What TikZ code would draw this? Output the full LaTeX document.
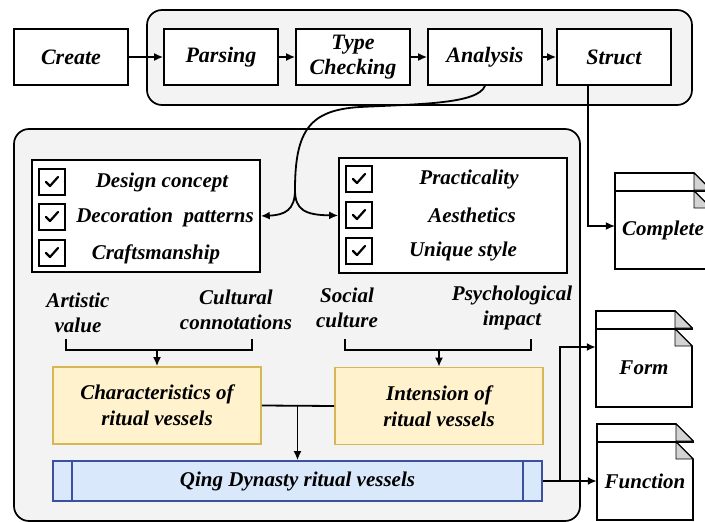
\documentclass[tikz,border=0pt]{standalone}
\usepackage{fontspec}
\setmainfont{Liberation Serif}[
  BoldFont={Liberation Serif Bold},
  ItalicFont={Liberation Serif Italic},
  BoldItalicFont={Liberation Serif Bold Italic}]
\usetikzlibrary{arrows.meta}

\definecolor{panelgray}{RGB}{243,243,243}
\definecolor{ochrefill}{RGB}{255,242,204}
\definecolor{ochreline}{RGB}{214,182,86}
\definecolor{bluefill}{RGB}{218,232,252}
\definecolor{blueline}{RGB}{60,80,160}
\definecolor{foldgray}{RGB}{211,211,211}

\newcommand{\bigit}{\fontsize{22}{25}\selectfont\bfseries\itshape}
\newcommand{\smallit}{\fontsize{21}{25}\selectfont\bfseries\itshape}

\tikzset{
  stage/.style={draw, line width=1.6pt, fill=white, minimum width=114pt, minimum height=56pt, inner sep=1pt, align=center, font=\bigit},
  panel/.style={draw, line width=1.7pt, fill=panelgray, rounded corners=15pt},
  listbox/.style={draw, line width=1.6pt, fill=white, minimum width=228pt, inner sep=0pt},
  tickbox/.style={draw, line width=1.4pt, fill=white, minimum size=26pt, inner sep=0pt},
  item/.style={inner sep=0pt, font=\smallit},
  factor/.style={inner sep=0pt, align=center, font=\smallit},
  vessel/.style={draw=ochreline, fill=ochrefill, line width=1.6pt, minimum width=208pt, minimum height=77pt, align=center, font=\fontsize{21}{26}\selectfont\bfseries\itshape},
  sheet/.style={draw, line width=1.6pt, fill=white},
  fold/.style={draw, line width=0.8pt, fill=foldgray},
  doctext/.style={minimum width=96pt, minimum height=78pt, inner sep=0pt, font=\smallit},
  link/.style={line width=1.8pt},
  conn/.style={line width=1.8pt, -{Latex[length=9pt,width=8pt]}}
}

% check mark inside a tick box
\newcommand{\tickin}[1]{%
  \draw[line width=2.2pt, line cap=round, line join=round] ([shift={(-6,0)}]#1.center) -- ([shift={(-2,4)}]#1.center) -- ([shift={(6,-5)}]#1.center);}

% stacked document sheets: name, left, top, text
\newcommand{\docpair}[4]{%
  \begin{scope}[shift={(#2,#3)}]
    \draw[sheet] (0,0) -- (79,0) -- (96,17) -- (96,18) -- (0,18) -- cycle;
    \draw[fold] (79,0) -- (79,17) -- (96,17) -- cycle;
    \draw[sheet] (0,18) -- (79,18) -- (96,35) -- (96,96) -- (0,96) -- cycle;
    \draw[fold] (79,18) -- (79,35) -- (96,35) -- cycle;
    \node[doctext] (#1) at (48,57) {#4};
  \end{scope}}

\begin{document}
\begin{tikzpicture}[x=1pt,y=-1pt]
  \useasboundingbox (0,0) rectangle (705,522);

  % Panels
  \draw[panel] (147,10) rectangle (692,105);
  \draw[panel] (14,129) rectangle (580,521);

  % Pipeline
  \node[stage] (create) at (71,57) {Create};
  \node[stage] (parse) at (221,57) {Parsing};
  \node[stage] (check) at (353,57) {Type\\Checking};
  \node[stage] (ana) at (485,57) {Analysis};
  \node[stage] (struct) at (614,57) {Struct};
  \draw[conn] (create) -- (parse);
  \draw[conn] (parse) -- (check);
  \draw[conn] (check) -- (ana);
  \draw[conn] (ana) -- (struct);

  % Check lists
  \node[listbox, minimum height=112pt] (listL) at (146,216) {};
  \node[listbox, minimum height=115pt] (listR) at (453,215.5) {};
  \node[tickbox] (tL1) at (52,182) {};
  \node[tickbox] (tL2) at (52,217) {};
  \node[tickbox] (tL3) at (52,253) {};
  \node[tickbox] (tR1) at (359,179) {};
  \node[tickbox] (tR2) at (359,215) {};
  \node[tickbox] (tR3) at (359,251) {};
  \foreach \t in {tL1,tL2,tL3,tR1,tR2,tR3} {\tickin{\t}}
  \node[item] (design) at (162,182) {Design concept};
  \node[item] (decor) at (165,217) {Decoration\ \ patterns};
  \node[item] (craft) at (156,254) {Craftsmanship};
  \node[item] (pract) at (469,179) {Practicality};
  \node[item] (aest) at (472,215) {Aesthetics};
  \node[item] (unique) at (463,251) {Unique style};

  % Analysis feeds both lists
  \coordinate (fork) at (295,190);
  \draw[link] (ana.south) .. controls (478,104) and (420,104) .. (360,107)
    .. controls (310,110) and (295,130) .. (fork);
  \draw[conn] (fork) .. controls (295,210) and (285,215) .. (listL.east);
  \draw[conn] (fork) .. controls (295,210) and (305,215) .. (listR.west);

  % Factors
  \node[factor] (art) at (78,313) {Artistic\\value};
  \node[factor] (cult) at (236,310) {Cultural\\connotations};
  \node[factor] (soc) at (347,308) {Social\\culture};
  \node[factor] (psy) at (512,308) {Psychological\\impact};

  % Vessel boxes
  \node[vessel] (chara) at (157,405.5) {Characteristics of\\ritual vessels};
  \node[vessel] (inten) at (439,406) {Intension of\\ritual vessels};
  \node[draw=blueline, fill=bluefill, line width=1.6pt, minimum width=489pt, minimum height=40pt, font=\smallit] (qing) at (297.5,481) {Qing Dynasty ritual vessels};
  \draw[blueline, line width=1.6pt] ([xshift=20pt]qing.north west) -- ([xshift=20pt]qing.south west);
  \draw[blueline, line width=1.6pt] ([xshift=-20pt]qing.north east) -- ([xshift=-20pt]qing.south east);

  % Brackets
  \coordinate (artB) at (66,339);
  \coordinate (cultB) at (252,339);
  \coordinate (socB) at (345,339);
  \coordinate (psyB) at (531,339);
  \draw[link] (artB) |- (chara.north |- 0,350) -| (cultB);
  \draw[conn] (chara.north |- 0,350) -- (chara.north);
  \draw[link] (socB) |- (inten.north |- 0,350) -| (psyB);
  \draw[conn] (inten.north |- 0,350) -- (inten.north);
  \draw[link] (chara.east) -- (inten.west);
  \draw[conn] (qing.north |- chara.east) -- (qing.north);

  % Documents
  \docpair{cmpl}{615}{173}{Complete}
  \docpair{form}{596}{311}{Form}
  \docpair{func}{597}{424}{Function}
  \draw[conn, line width=1.2pt] ([xshift=-26pt]struct.south) |- ([yshift=4pt]cmpl.west);
  \coordinate (out) at (560,481);
  \draw[link] (qing.east) -- (out);
  \draw[conn] (out) |- ([yshift=21pt]form.west);
  \draw[conn] (out) -- (func.west |- out);
\end{tikzpicture}
\end{document}
